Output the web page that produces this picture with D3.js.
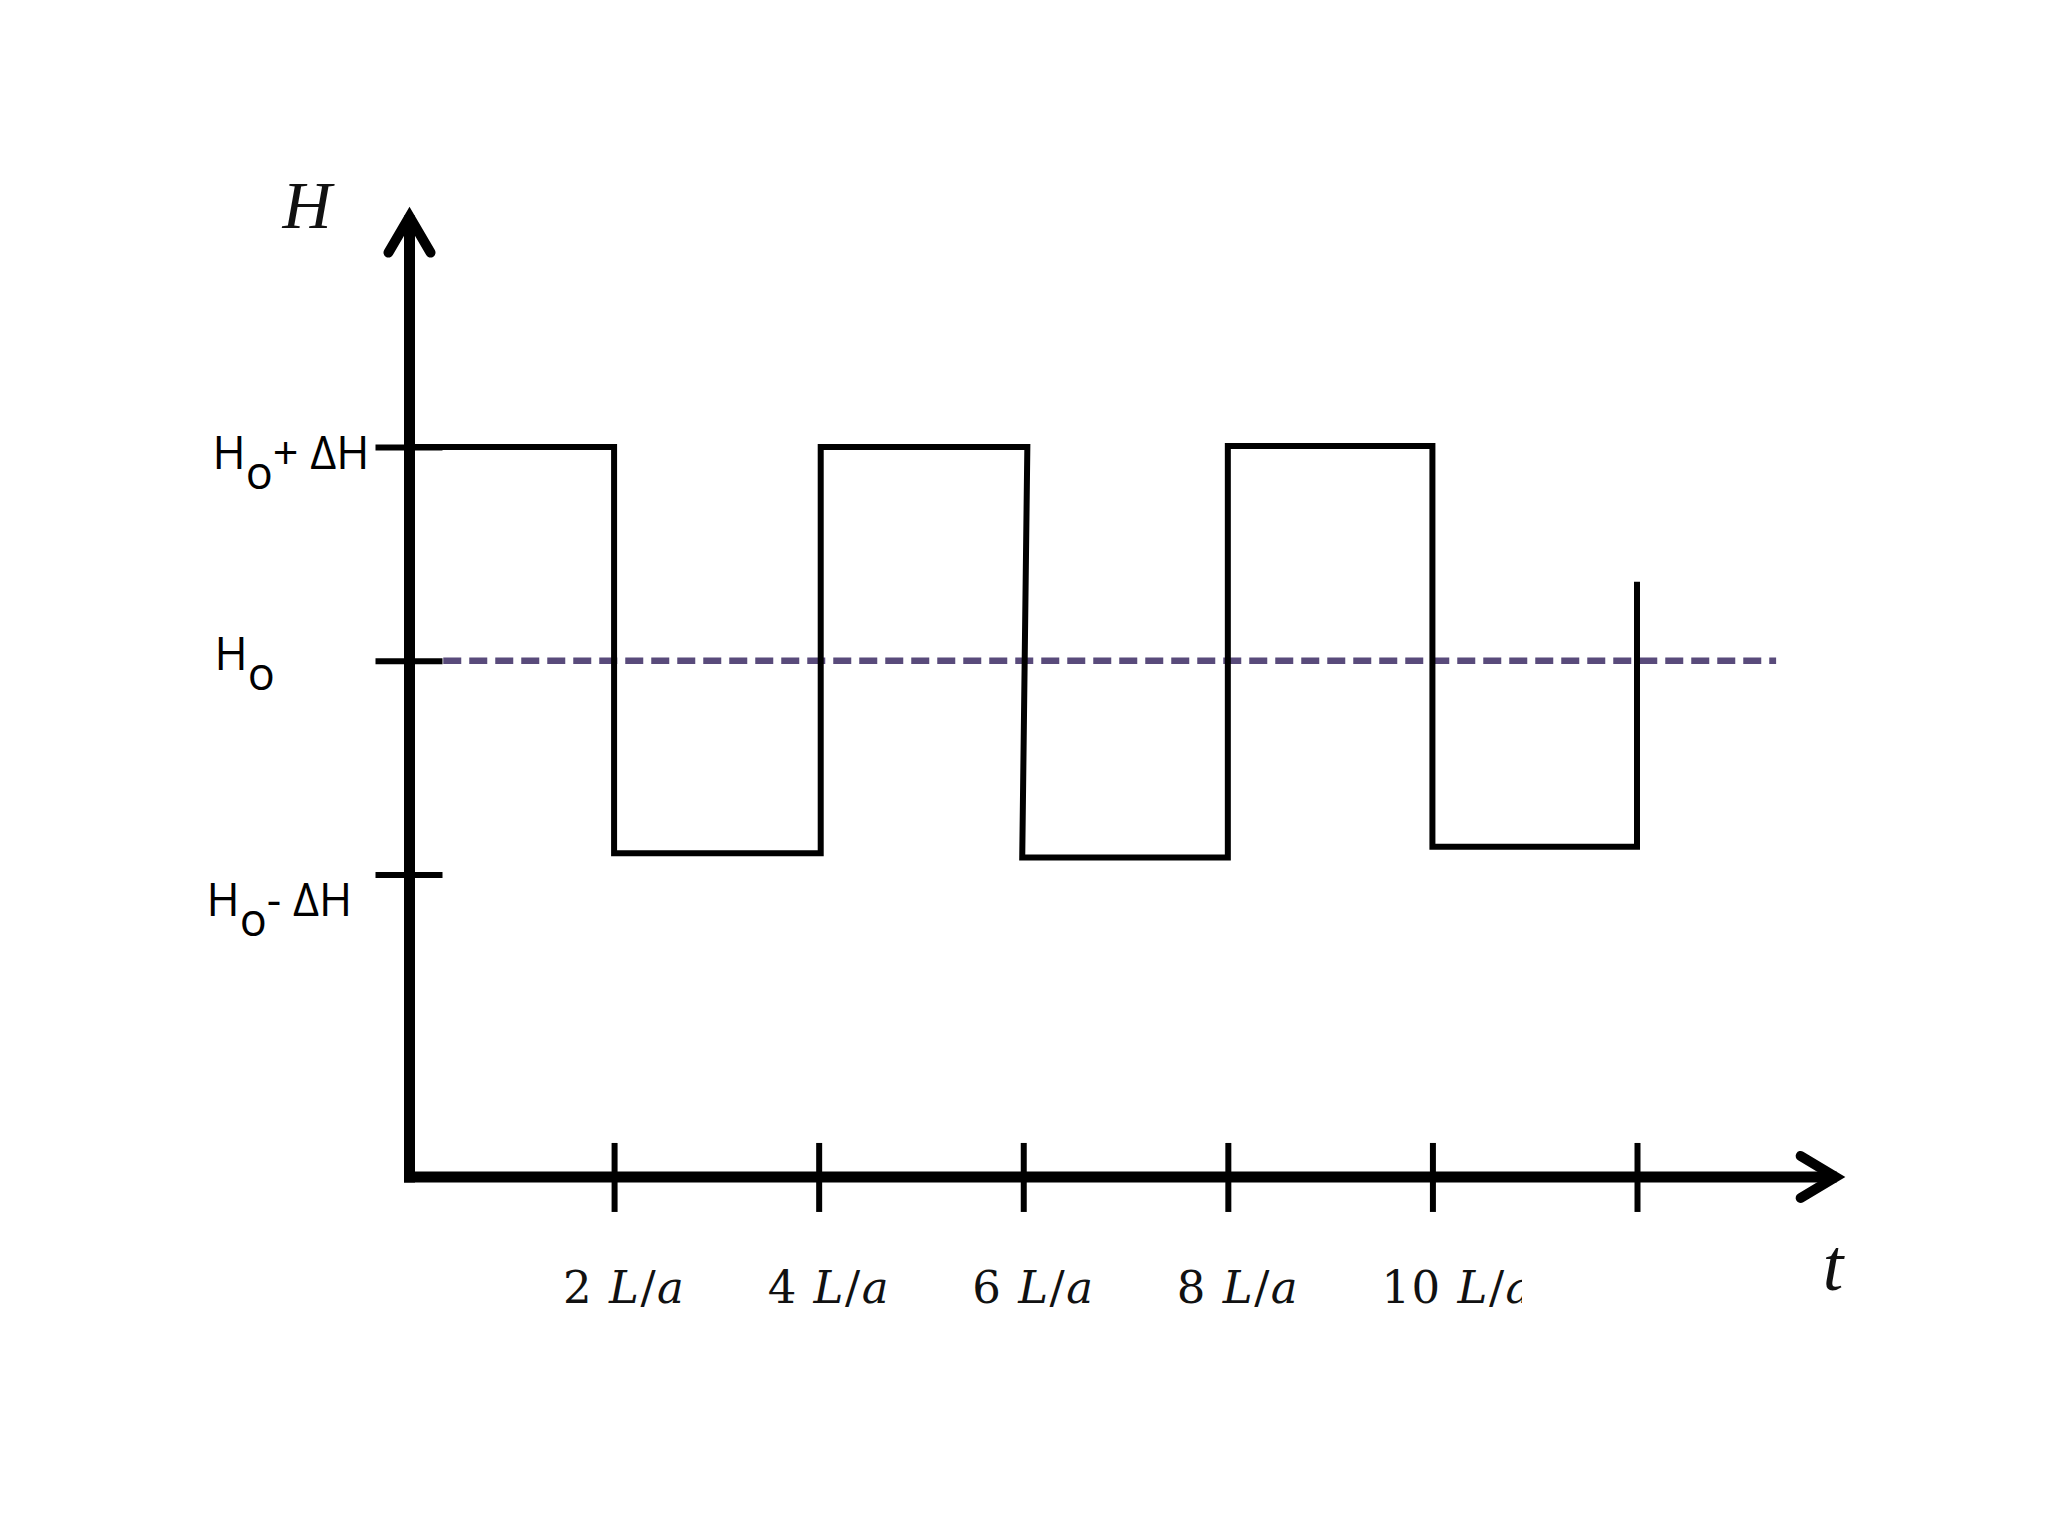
<!DOCTYPE html>
<html><head><meta charset="utf-8">
<script src="https://cdn.jsdelivr.net/npm/d3@7"></script>
<style>html,body{margin:0;padding:0;background:#fff;} svg{display:block;}</style>
</head><body>
<svg id="chart" width="2048" height="1536"></svg>
<script>
// ---- data ----
const tickMultiples = [2, 4, 6, 8, 10, 12];          // t in units of L/a
const tickLabelNumbers = ["2", "4", "6", "8", "10", ""];
const levelValues = [1, 0, -1];                        // (H - Ho)/ΔH
const levelLabelParts = [["H", "o", "+ ΔH"], ["H", "o", ""], ["H", "o", "- ΔH"]];
const signalT = [0, 2, 2, 4.02, 4.02, 6.04, 5.99, 8, 8, 10, 10, 12, 12];
const signalH = [1, 1, -0.9, -0.9, 1, 1, -0.92, -0.92, 1.005, 1.005, -0.87, -0.87, 0.37];
const referenceT = [0.33, 13.36];
const referenceH = [0, 0];
const axisTitleY = "H";
const axisTitleX = "t";
const tExtent = [0, 14.03];
const hExtent = [-2.415, 2.12];

// ---- scales ----
const svg = d3.select("#chart");
const x = d3.scaleLinear().domain([0, 12]).range([409.5, 1637]);
const y = d3.scaleLinear().domain([-1, 1]).range([874.5, 447]);
const x0 = x(tExtent[0]), x1 = x(tExtent[1]);
const yBase = y(hExtent[0]), yTop = y(hExtent[1]);

// ---- reference (Ho) dashed line ----
const line = d3.line().x(d => x(d[0])).y(d => y(d[1]));
svg.append("path")
  .attr("d", line(referenceT.map((t, i) => [t, referenceH[i]])))
  .attr("fill", "none").attr("stroke", "#594b7b")
  .attr("stroke-width", 6.5).attr("stroke-dasharray", "18 8");

// ---- signal ----
svg.append("path")
  .attr("d", line(signalT.map((t, i) => [t, signalH[i]])))
  .attr("fill", "none").attr("stroke", "#000")
  .attr("stroke-width", 6).attr("stroke-linejoin", "miter").attr("stroke-linecap", "butt");

// ---- axes ticks via d3 axes ----
const gx = svg.append("g").attr("transform", `translate(0,${yBase})`)
  .call(d3.axisBottom(x).tickValues(tickMultiples).tickSizeOuter(0).tickFormat(""));
gx.select(".domain").remove();
gx.selectAll(".tick line").attr("y1", -34).attr("y2", 35)
  .attr("stroke", "#000").attr("stroke-width", 6);
gx.selectAll(".tick text").remove();

const gy = svg.append("g").attr("transform", `translate(${x0},0)`)
  .call(d3.axisLeft(y).tickValues(levelValues).tickSizeOuter(0).tickFormat(""));
gy.select(".domain").remove();
gy.selectAll(".tick line").attr("x1", -34).attr("x2", 33)
  .attr("stroke", "#000").attr("stroke-width", 6);
gy.selectAll(".tick text").remove();

// ---- axis lines with arrowheads ----
svg.append("path")
  .attr("d", `M${x0},${yBase + 5.5}L${x0},${yTop + 8}`)
  .attr("stroke", "#000").attr("stroke-width", 11).attr("fill", "none");
svg.append("path")
  .attr("d", `M${x0 - 21},${yTop + 45}L${x0},${yTop + 9}L${x0 + 21},${yTop + 45}`)
  .attr("stroke", "#000").attr("stroke-width", 10).attr("fill", "none")
  .attr("stroke-linecap", "round").attr("stroke-linejoin", "miter");
svg.append("path")
  .attr("d", `M${x0 - 5.5},${yBase}L${x1 - 8},${yBase}`)
  .attr("stroke", "#000").attr("stroke-width", 11).attr("fill", "none");
svg.append("path")
  .attr("d", `M${x1 - 44},${yBase - 21}L${x1 - 9},${yBase}L${x1 - 44},${yBase + 21}`)
  .attr("stroke", "#000").attr("stroke-width", 10).attr("fill", "none")
  .attr("stroke-linecap", "round").attr("stroke-linejoin", "miter");

// ---- tick labels (x) ----
svg.append("defs").append("clipPath").attr("id", "cut")
  .append("rect").attr("x", 0).attr("y", 0).attr("width", 1522).attr("height", 1536);
const xl = svg.append("g").attr("clip-path", "url(#cut)")
  .attr("font-family", "'DejaVu Serif', serif").attr("font-size", 45)
  .attr("letter-spacing", 1.5).attr("fill", "#111");
tickMultiples.forEach((t, i) => {
  if (!tickLabelNumbers[i]) return;
  const tx = xl.append("text").attr("x", x(t) - 51).attr("y", yBase + 126);
  tx.append("tspan").text(tickLabelNumbers[i] + " ");
  tx.append("tspan").attr("font-style", "italic").text("L");
  tx.append("tspan").text("/");
  tx.append("tspan").attr("font-style", "italic").text("a");
});

// ---- level labels (y) ----
const levelLayout = [{dx: -197, dy: 22}, {dx: -195, dy: 9}, {dx: -203, dy: 41}];
const yl = svg.append("g").attr("font-family", "'Open Sans', sans-serif")
  .attr("font-size", 45).attr("fill", "#000");
levelValues.forEach((v, i) => {
  const p = levelLabelParts[i];
  const tx = yl.append("text").attr("x", x0 + levelLayout[i].dx).attr("y", y(v) + levelLayout[i].dy);
  tx.append("tspan").text(p[0]);
  tx.append("tspan").attr("dy", 20).text(p[1]);
  if (p[2]) tx.append("tspan").attr("dy", -20).text(p[2]);
});

// ---- axis titles ----
svg.append("text").attr("x", 307).attr("y", 228).attr("text-anchor", "middle")
  .attr("font-family", "'Liberation Serif', serif").attr("font-style", "italic")
  .attr("font-size", 68).attr("fill", "#111").text(axisTitleY);
svg.append("text").attr("x", 1833).attr("y", 1290).attr("text-anchor", "middle")
  .attr("font-family", "'Liberation Serif', serif").attr("font-style", "italic")
  .attr("font-size", 74).attr("fill", "#111").text(axisTitleX);
</script>
</body></html>
